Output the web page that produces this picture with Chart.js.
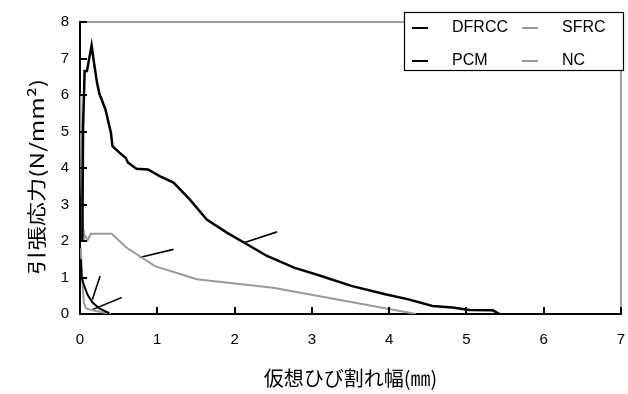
<!DOCTYPE html>
<html>
<head>
<meta charset="utf-8">
<script src="https://cdn.jsdelivr.net/npm/chart.js@4/dist/chart.umd.min.js"></script>
<style>
  html, body { margin: 0; padding: 0; background: #fff; }
</style>
</head>
<body>
<canvas id="chart" width="628" height="394"></canvas>
<script>
// Axis ticks
const xTicks = [0, 1, 2, 3, 4, 5, 6, 7];
const yTicks = [0, 1, 2, 3, 4, 5, 6, 7, 8];

// Axis titles
const xTitle = '仮想ひび割れ幅(㎜)';
const yTitle = '引張応力(N/mm²)';

// DFRCC (black)
const dfrccX = [0.03, 0.04, 0.06, 0.09, 0.15, 0.18, 0.22, 0.25, 0.33, 0.40, 0.42, 0.51, 0.59, 0.62, 0.73, 0.88, 1.03, 1.21, 1.42, 1.64, 1.90, 2.16, 2.42, 2.77, 3.12, 3.51, 3.95, 4.25, 4.56, 4.82, 5.04, 5.34, 5.43];
const dfrccY = [2.0, 5.15, 6.66, 6.66, 7.36, 6.9, 6.34, 6.04, 5.6, 4.97, 4.6, 4.42, 4.28, 4.15, 3.98, 3.96, 3.78, 3.6, 3.14, 2.59, 2.23, 1.91, 1.59, 1.27, 1.04, 0.77, 0.54, 0.40, 0.22, 0.18, 0.11, 0.10, 0.0];

// SFRC (grey)
const sfrcX = [0.005, 0.02, 0.04, 0.05, 0.10, 0.14, 0.41, 0.60, 0.97, 1.51, 2.5, 3.12, 4.35];
const sfrcY = [6.05, 3.5, 2.3, 2.2, 2.03, 2.2, 2.2, 1.82, 1.31, 0.95, 0.72, 0.48, 0.0];

// PCM (black)
const pcmX = [0.01, 0.02, 0.05, 0.10, 0.16, 0.25, 0.38];
const pcmY = [1.5, 1.0, 0.8, 0.52, 0.32, 0.15, 0.02];

// NC (grey)
const ncX = [0.01, 0.03, 0.05, 0.08, 0.16, 0.40];
const ncY = [1.8, 0.95, 0.3, 0.15, 0.1, 0.0];

// leader lines pointing at the curves
const lead1X = [2.12, 2.55], lead1Y = [1.95, 2.25];
const lead2X = [0.77, 1.21], lead2Y = [1.55, 1.77];
const lead3X = [0.16, 0.26], lead3Y = [0.40, 1.04];
const lead4X = [0.16, 0.54], lead4Y = [0.12, 0.45];

const legendOrder = ['DFRCC', 'SFRC', 'PCM', 'NC'];

function pts(xs, ys) {
    return xs.map((x, i) => ({ x: x, y: ys[i] }));
}

function series(label, xs, ys, color, width) {
    return {
        label: label,
        data: pts(xs, ys),
        borderColor: color,
        backgroundColor: color,
        borderWidth: width,
        pointRadius: 0,
        tension: 0,
        fill: false
    };
}

const datasets = [
    series('DFRCC', dfrccX, dfrccY, '#000000', 2.5),
    series('SFRC', sfrcX, sfrcY, '#9a9a9a', 2),
    series('PCM', pcmX, pcmY, '#000000', 2),
    series('NC', ncX, ncY, '#9a9a9a', 2),
    series('', lead1X, lead1Y, '#000000', 1.6),
    series('', lead2X, lead2Y, '#000000', 1.6),
    series('', lead3X, lead3Y, '#000000', 1.6),
    series('', lead4X, lead4Y, '#000000', 1.6)
];

// grey frame on top/right + inward tick marks
const frameAndTicks = {
    id: 'frameAndTicks',
    beforeDatasetsDraw(chart) {
        const { ctx, chartArea } = chart;
        ctx.save();
        ctx.strokeStyle = '#808080';
        ctx.lineWidth = 1.5;
        ctx.beginPath();
        ctx.moveTo(chartArea.left, chartArea.top);
        ctx.lineTo(chartArea.right, chartArea.top);
        ctx.lineTo(chartArea.right, chartArea.bottom);
        ctx.stroke();
        ctx.restore();
    },
    afterDatasetsDraw(chart) {
        const { ctx, chartArea, scales } = chart;
        ctx.save();
        ctx.strokeStyle = '#000';
        ctx.lineWidth = 2;
        ctx.beginPath();
        xTicks.forEach(v => {
            const px = Math.round(scales.x.getPixelForValue(v));
            ctx.moveTo(px, chartArea.bottom);
            ctx.lineTo(px, chartArea.bottom - 7);
        });
        yTicks.forEach(v => {
            const py = Math.round(scales.y.getPixelForValue(v));
            ctx.moveTo(chartArea.left, py);
            ctx.lineTo(chartArea.left + 7, py);
        });
        ctx.stroke();
        ctx.restore();
    }
};

// vertical title, stretched along its length like the original
const yTitleDraw = {
    id: 'yTitleDraw',
    afterDraw(chart) {
        const { ctx, chartArea } = chart;
        ctx.save();
        ctx.translate(37, (chartArea.top + chartArea.bottom) / 2 + 9);
        ctx.rotate(-Math.PI / 2);
        ctx.scale(1.28, 1);
        ctx.font = '19px "Noto Sans CJK JP", sans-serif';
        ctx.fillStyle = '#000';
        ctx.textAlign = 'center';
        ctx.textBaseline = 'middle';
        ctx.fillText(yTitle, 0, 0);
        ctx.restore();
    }
};

// boxed 2x2 legend in the top right corner
const legendBox = {
    id: 'legendBox',
    afterDraw(chart) {
        const ctx = chart.ctx;
        const box = { left: 404, top: 12, width: 220, height: 59 };
        ctx.save();
        ctx.fillStyle = '#fff';
        ctx.fillRect(box.left, box.top, box.width, box.height);
        ctx.strokeStyle = '#000';
        ctx.lineWidth = 1.2;
        ctx.strokeRect(box.left + 0.5, box.top + 0.5, box.width - 1, box.height - 1);
        ctx.font = '16px "Liberation Sans", Arial, sans-serif';
        ctx.textBaseline = 'middle';
        ctx.textAlign = 'left';
        legendOrder.forEach((name, i) => {
            const ds = chart.data.datasets.find(d => d.label === name);
            const col = i % 2, row = Math.floor(i / 2);
            const x = box.left + 8 + col * 110;
            const y = box.top + 16 + row * 33;
            ctx.strokeStyle = ds.borderColor;
            ctx.lineWidth = 2;
            ctx.beginPath();
            ctx.moveTo(x, y);
            ctx.lineTo(x + 16, y);
            ctx.stroke();
            ctx.fillStyle = '#000';
            ctx.fillText(ds.label, x + 40, y);
        });
        ctx.restore();
    }
};

new Chart(document.getElementById('chart'), {
    type: 'line',
    data: { datasets: datasets },
    plugins: [frameAndTicks, yTitleDraw, legendBox],
    options: {
        responsive: false,
        animation: false,
        events: [],
        layout: { padding: { left: 0, top: 22, right: 7, bottom: 0 } },
        plugins: {
            legend: { display: false },
            tooltip: { enabled: false }
        },
        scales: {
            x: {
                type: 'linear',
                min: 0,
                max: 7,
                afterBuildTicks: (scale) => { scale.ticks = xTicks.map(v => ({ value: v })); },
                afterFit: (scale) => {
                    scale.height = 80;
                    scale.paddingLeft = 0;
                    scale.paddingRight = 0;
                },
                grid: { display: false, drawTicks: false },
                border: { display: true, color: '#000', width: 2 },
                ticks: {
                    color: '#000',
                    padding: 17,
                    maxRotation: 0,
                    font: { family: '"Liberation Sans", Arial, sans-serif', size: 15 }
                },
                title: {
                    display: true,
                    text: xTitle,
                    color: '#000',
                    padding: { top: 0, bottom: 4 },
                    font: { family: '"Noto Sans CJK JP", sans-serif', size: 20 }
                }
            },
            y: {
                type: 'linear',
                min: 0,
                max: 8,
                afterBuildTicks: (scale) => { scale.ticks = yTicks.map(v => ({ value: v })); },
                afterFit: (scale) => {
                    scale.width = 80;
                    scale.paddingTop = 0;
                    scale.paddingBottom = 0;
                },
                grid: { display: false, drawTicks: false },
                border: { display: true, color: '#000', width: 2 },
                ticks: {
                    color: '#000',
                    padding: 11,
                    font: { family: '"Liberation Sans", Arial, sans-serif', size: 15 }
                },
                title: { display: false }
            }
        }
    }
});
</script>
</body>
</html>
